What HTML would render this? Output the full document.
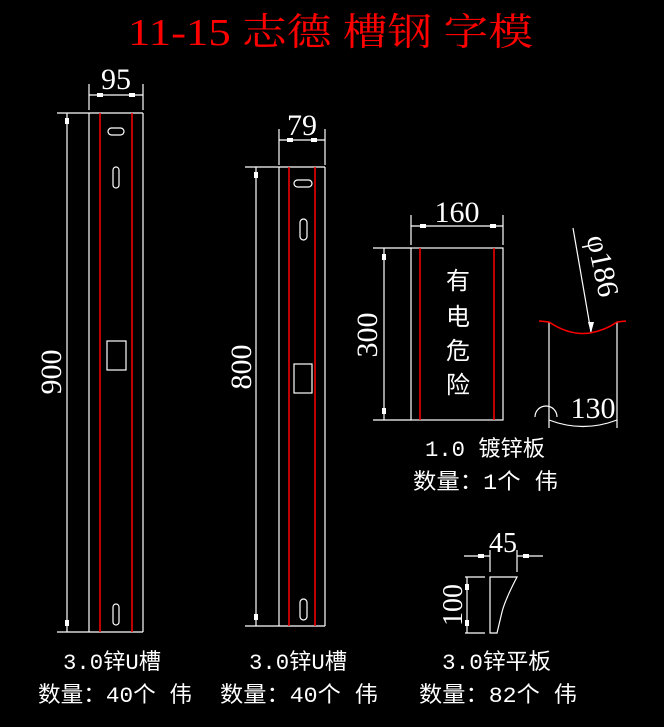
<!DOCTYPE html>
<html><head><meta charset="utf-8"><style>
html,body{margin:0;padding:0;background:#000;}
svg{display:block}
.w{stroke:#fff;stroke-width:1.2;fill:none}
.r{stroke:#f00;stroke-width:1.5;fill:none}
.d{font-family:"Liberation Serif",serif;fill:#fff;font-size:30px}
.c{font-family:"Liberation Mono","Noto Sans CJK SC",monospace;fill:#fff;font-size:22px}
</style></head><body>
<svg width="664" height="727" viewBox="0 0 664 727" xmlns="http://www.w3.org/2000/svg">
<rect width="664" height="727" fill="#000"/>
<text x="128" y="45" textLength="405" lengthAdjust="spacingAndGlyphs" style="font-family:'Liberation Serif','Noto Serif CJK SC',serif;font-size:38px;fill:#f00">11-15 志德 槽钢 字模</text>

<!-- piece 1 -->
<g class="w">
<line x1="89" y1="113" x2="89" y2="632"/><line x1="143" y1="113" x2="143" y2="632"/>
<line x1="57" y1="113" x2="143" y2="113"/><line x1="57" y1="632" x2="143" y2="632"/>
<line x1="67" y1="113" x2="67" y2="632"/>
<line x1="89" y1="84" x2="89" y2="110"/><line x1="143" y1="84" x2="143" y2="110"/>
<line x1="89" y1="95" x2="143" y2="95"/>
<rect x="108" y="128" width="16" height="7" rx="3.5"/>
<rect x="113" y="167" width="6" height="21" rx="3"/>
<rect x="107" y="341" width="19" height="29"/>
<rect x="113" y="604" width="6" height="21" rx="3"/>
</g>
<g fill="#fff"><rect x="65" y="118" width="4" height="6"/><rect x="65" y="620" width="4" height="6"/><rect x="97" y="93" width="6" height="4"/><rect x="129" y="93" width="6" height="4"/></g>
<line class="r" x1="100" y1="113" x2="100" y2="632"/><line class="r" x1="132" y1="113" x2="132" y2="632"/>
<text class="d" x="116" y="89" text-anchor="middle">95</text>
<text class="d" transform="translate(61,372) rotate(-90)" text-anchor="middle">900</text>

<!-- piece 2 -->
<g class="w">
<line x1="279" y1="167" x2="279" y2="626"/><line x1="325" y1="167" x2="325" y2="626"/>
<line x1="245" y1="167" x2="325" y2="167"/><line x1="245" y1="626" x2="325" y2="626"/>
<line x1="256" y1="167" x2="256" y2="626"/>
<line x1="279" y1="129" x2="279" y2="165"/><line x1="325" y1="129" x2="325" y2="165"/>
<line x1="279" y1="140" x2="325" y2="140"/>
<rect x="294" y="180" width="18" height="7" rx="3.5"/>
<rect x="300" y="219" width="7" height="21" rx="3.5"/>
<rect x="294" y="364" width="18" height="29"/>
<rect x="300" y="599" width="7" height="21" rx="3.5"/>
</g>
<g fill="#fff"><rect x="254" y="172" width="4" height="6"/><rect x="254" y="614" width="4" height="6"/><rect x="287" y="138" width="6" height="4"/><rect x="311" y="138" width="6" height="4"/></g>
<line class="r" x1="289" y1="167" x2="289" y2="626"/><line class="r" x1="315" y1="167" x2="315" y2="626"/>
<text class="d" x="302" y="135" text-anchor="middle">79</text>
<text class="d" transform="translate(251,367) rotate(-90)" text-anchor="middle">800</text>

<!-- sign -->
<g class="w">
<rect x="411" y="248" width="92" height="172"/>
<line x1="373" y1="248" x2="411" y2="248"/><line x1="373" y1="420" x2="411" y2="420"/>
<line x1="384" y1="248" x2="384" y2="420"/>
<line x1="411" y1="215" x2="411" y2="245"/><line x1="503" y1="215" x2="503" y2="245"/>
<line x1="411" y1="226" x2="503" y2="226"/>
</g>
<g fill="#fff"><rect x="382" y="254" width="4" height="6"/><rect x="382" y="408" width="4" height="6"/><rect x="420" y="224" width="6" height="4"/><rect x="490" y="224" width="6" height="4"/></g>
<line class="r" x1="420" y1="248" x2="420" y2="420"/><line class="r" x1="494" y1="248" x2="494" y2="420"/>
<text class="d" x="457" y="222" text-anchor="middle">160</text>
<text class="d" transform="translate(377,335) rotate(-90)" text-anchor="middle">300</text>
<g style="font-family:'Noto Sans CJK SC',sans-serif;font-size:24px;fill:#fff" text-anchor="middle">
<text x="458" y="289">有</text><text x="458" y="325">电</text><text x="458" y="359">危</text><text x="458" y="393">险</text>
</g>

<!-- pipe -->
<g class="w">
<line x1="549" y1="322" x2="549" y2="428"/><line x1="617" y1="322" x2="617" y2="428"/>
<line x1="573" y1="228" x2="591" y2="332"/>
<path d="M549,420 Q583,433 617,420"/>
<path d="M535,417 A11,11 0 0 1 557,417"/>
</g>
<polygon points="588,322 594,322 591,333" fill="#fff"/>
<path class="r" d="M539,321 L549,322 Q570,336 590,333 Q606,330 617,322 L626,321"/>
<text class="d" transform="translate(593,268) rotate(78)" text-anchor="middle">φ186</text>
<text class="d" x="593" y="418" text-anchor="middle">130</text>

<!-- flat plate -->
<g class="w">
<line x1="490" y1="550" x2="490" y2="572"/><line x1="517" y1="550" x2="517" y2="572"/>
<line x1="464" y1="556" x2="490" y2="556"/><line x1="517" y1="556" x2="543" y2="556"/>
<path d="M490,577 L517,577 Q505,600 502,612 L497,633 L490,633 Z"/>
<line x1="465" y1="577" x2="485" y2="577"/><line x1="465" y1="633" x2="485" y2="633"/>
<line x1="467" y1="577" x2="467" y2="633"/>
</g>
<g fill="#fff"><rect x="478" y="554" width="6" height="4"/><rect x="523" y="554" width="6" height="4"/><rect x="465" y="584" width="4" height="6"/><rect x="465" y="620" width="4" height="6"/></g>
<text class="d" x="503" y="552" text-anchor="middle" style="font-size:28px">45</text>
<text class="d" transform="translate(462,605) rotate(-90)" text-anchor="middle" style="font-size:28px">100</text>

<!-- labels -->
<text class="c" x="425" y="456" textLength="120" lengthAdjust="spacingAndGlyphs">1.0 镀锌板</text>
<text class="c" x="413" y="489" textLength="145" lengthAdjust="spacingAndGlyphs">数量：1个 伟</text>
<text class="c" x="63" y="669" textLength="98" lengthAdjust="spacingAndGlyphs">3.0锌U槽</text>
<text class="c" x="38" y="702" textLength="154" lengthAdjust="spacingAndGlyphs">数量：40个 伟</text>
<text class="c" x="249" y="669" textLength="98" lengthAdjust="spacingAndGlyphs">3.0锌U槽</text>
<text class="c" x="220" y="702" textLength="158" lengthAdjust="spacingAndGlyphs">数量：40个 伟</text>
<text class="c" x="442" y="669" textLength="109" lengthAdjust="spacingAndGlyphs">3.0锌平板</text>
<text class="c" x="419" y="702" textLength="158" lengthAdjust="spacingAndGlyphs">数量：82个 伟</text>
</svg>
</body></html>
